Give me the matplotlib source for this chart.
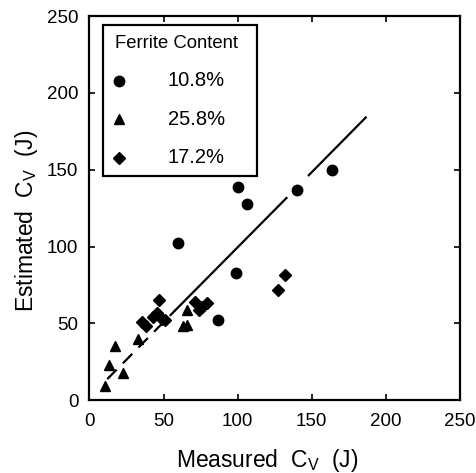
import numpy as np
import matplotlib.pyplot as plt
from matplotlib.patches import Rectangle

plt.rcParams['font.family'] = ['Liberation Sans', 'DejaVu Sans']
plt.rcParams['mathtext.default'] = 'regular'

# Data (measured, estimated Charpy energy in J)
circle_x = [60, 99, 100, 106, 87, 140, 164]
circle_y = [102, 83, 139, 128, 52, 137, 150]

tri_x = [10.5, 13, 17, 22.5, 33, 63, 66, 66]
tri_y = [9, 23, 35, 18, 40, 48, 49, 59]

dia_x = [47, 35.5, 38, 45.5, 49, 51, 43, 71.5, 76, 79.5, 74, 127, 132]
dia_y = [65.5, 51, 48, 57, 53, 52, 54, 64, 60.5, 63.5, 59, 72, 81.5]

# regression line pieces (dashed lower part, solid upper part with a break)
dash_x = [12, 58]
dash_y = [13.7, 58.6]
solid1_x = [58, 133]
solid1_y = [58.6, 131.6]
solid2_x = [148, 186.5]
solid2_y = [146.4, 184]

labels = ['10.8%', '25.8%', '17.2%']
markers = ['o', '^', 'D']
msizes = [7.5, 7.5, 6]

fig = plt.figure(figsize=(4.76, 4.73), dpi=100)
ax = fig.add_axes([0.188, 0.154, 0.778, 0.812])

ax.plot(dash_x, dash_y, color='black', lw=1.6, linestyle=(0, (6, 4)))
ax.plot(solid1_x, solid1_y, color='black', lw=1.6)
ax.plot(solid2_x, solid2_y, color='black', lw=1.6)

ax.plot(circle_x, circle_y, 'o', color='black', ms=7.5, ls='none')
ax.plot(tri_x, tri_y, '^', color='black', ms=7.5, ls='none')
ax.plot(dia_x, dia_y, 'D', color='black', ms=6, ls='none')

ax.set_xlim(0, 250)
ax.set_ylim(0, 250)
ax.set_xticks([0, 50, 100, 150, 200, 250])
ax.set_yticks([0, 50, 100, 150, 200, 250])
ax.tick_params(direction='in', length=4, width=1.2, top=True, right=True,
               labelsize=13.5)
ax.tick_params(axis='x', pad=9)
ax.tick_params(axis='y', pad=8)
for s in ax.spines.values():
    s.set_linewidth(1.6)

ax.set_xlabel('Measured  C$_V$  (J)', fontsize=16.5)
ax.set_ylabel('Estimated  C$_V$  (J)', fontsize=16.5)
ax.xaxis.label.set_va('center')
ax.yaxis.label.set_va('center')
ax.xaxis.set_label_coords(0.48, -0.156)
ax.yaxis.set_label_coords(-0.169, 0.466)

# legend box drawn by hand to match the original layout
ax.add_patch(Rectangle((0.036, 0.583), 0.416, 0.394, transform=ax.transAxes,
                       fill=False, edgecolor='black', lw=1.6, zorder=5))
ax.text(0.069, 0.928, 'Ferrite Content', transform=ax.transAxes,
        fontsize=13.3, ha='left', va='center')
for m, ms, lab, yy in zip(markers, msizes, labels, [0.831, 0.732, 0.631]):
    ax.plot([0.0796], [yy], marker=m, ms=ms, color='black',
            transform=ax.transAxes, clip_on=False)
    ax.text(0.212, yy, lab, transform=ax.transAxes, fontsize=14.5,
            ha='left', va='center')

fig.savefig('out.png', dpi=100)
